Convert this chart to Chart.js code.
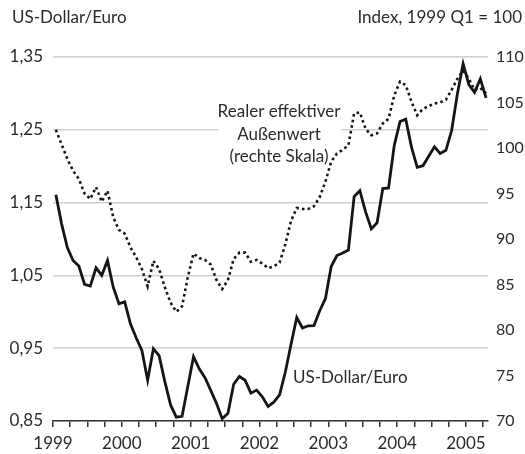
<!DOCTYPE html>
<html>
<head>
<meta charset="utf-8">
<script src="https://cdn.jsdelivr.net/npm/chart.js@4.4.1/dist/chart.umd.min.js"></script>
<style>
  body { margin: 0; background: #fff; }
  #wrap { position: relative; width: 525px; height: 454px; }
</style>
</head>
<body>
<div id="wrap"><canvas id="fxChart" width="525" height="454"></canvas></div>
<script>
// monthly values, Jan 1999 .. Apr 2005
var startYear = 1999;

// US-Dollar per Euro (left scale)
var usdEuro = [
  1.1608, 1.1208, 1.0883, 1.0704, 1.0628, 1.0378, 1.0353, 1.0604, 1.0501, 1.0706, 1.0338, 1.0110,
  1.0137, 0.9834, 0.9643, 0.9470, 0.9060, 0.9492, 0.9397, 0.9041, 0.8721, 0.8552, 0.8564, 0.8973,
  0.9383, 0.9217, 0.9095, 0.8920, 0.8742, 0.8532, 0.8607, 0.9005, 0.9111, 0.9059, 0.8883, 0.8924,
  0.8833, 0.8700, 0.8758, 0.8858, 0.9170, 0.9554, 0.9922, 0.9778, 0.9808, 0.9811, 1.0014, 1.0183,
  1.0622, 1.0773, 1.0807, 1.0848, 1.1582, 1.1663, 1.1372, 1.1139, 1.1222, 1.1692, 1.1702, 1.2286,
  1.2613, 1.2646, 1.2262, 1.1985, 1.2007, 1.2138, 1.2266, 1.2176, 1.2218, 1.2490, 1.2991, 1.3408,
  1.3119, 1.3014, 1.3201, 1.2938
];

// real effective exchange rate, index 1999 Q1 = 100 (right scale)
var realIndex = [
  102.0, 100.4, 98.8, 97.5, 96.6, 95.0, 94.4, 95.7, 94.1, 95.3, 92.4, 91.0,
  90.6, 89.1, 88.0, 86.7, 84.8, 87.6, 86.7, 84.7, 83.0, 82.0, 82.6, 85.8,
  88.4, 87.9, 87.7, 87.2, 85.5, 84.5, 85.5, 87.8, 88.5, 88.5, 87.5, 87.7,
  87.3, 86.8, 87.0, 87.4, 89.4, 92.0, 93.4, 93.3, 93.3, 93.6, 94.6, 96.3,
  98.5, 99.4, 99.8, 100.3, 103.8, 103.9, 102.1, 101.4, 101.6, 102.7, 103.2, 105.8,
  107.3, 106.9, 105.1, 103.6, 104.3, 104.6, 104.9, 105.0, 105.3, 106.4, 107.6, 108.5,
  107.6, 106.4, 106.6, 106.0
];

var leftTicks = [0.85, 0.95, 1.05, 1.15, 1.25, 1.35];
var rightTicks = [70, 75, 80, 85, 90, 95, 100, 105, 110];
var years = [1999, 2000, 2001, 2002, 2003, 2004, 2005];

// quarter tick marks on the time axis
var quarterTicks = [];
years.forEach(function (y) {
  [0, 0.25, 0.5, 0.75].forEach(function (q) {
    if (y + q <= 2005.25) quarterTicks.push(y + q);
  });
});

// months plotted at mid-month
function toPoints(values) {
  return values.map(function (v, i) {
    return { x: startYear + (i + 0.5) / 12, y: v };
  });
}

var textColor = "#2b2b2b";
var fontFamily = "Lato, 'Open Sans', sans-serif";

var labelsPlugin = {
  id: "labels",
  beforeDatasetsDraw: function (chart) {
    var ctx = chart.ctx;
    // white box behind the annotation so the grid line is interrupted
    ctx.save();
    ctx.fillStyle = "#fff";
    ctx.fillRect(218, 98, 123, 70);
    ctx.restore();
  },
  afterDraw: function (chart) {
    var ctx = chart.ctx;
    ctx.save();
    ctx.fillStyle = textColor;
    ctx.font = "17px " + fontFamily;
    ctx.textBaseline = "middle";

    ctx.textAlign = "left";
    ctx.fillText("US-Dollar/Euro", 12, 18);
    ctx.textAlign = "right";
    ctx.fillText("Index, 1999 Q1 = 100", 522, 18);

    ctx.textAlign = "center";
    ctx.fillText("Realer effektiver", 279, 112);
    ctx.fillText("Außenwert", 279, 134.5);
    ctx.fillText("(rechte Skala)", 279, 157);

    ctx.textAlign = "left";
    ctx.fillText("US-Dollar/Euro", 293, 378);
    ctx.restore();
  }
};

var ctx = document.getElementById("fxChart").getContext("2d");

new Chart(ctx, {
  type: "line",
  data: {
    datasets: [
      {
        label: "US-Dollar/Euro",
        data: toPoints(usdEuro),
        yAxisID: "yLeft",
        borderColor: "#151515",
        borderWidth: 2.8,
        pointRadius: 0,
        tension: 0,
        fill: false
      },
      {
        label: "Realer effektiver Außenwert",
        data: toPoints(realIndex),
        yAxisID: "yRight",
        borderColor: "#151515",
        borderWidth: 2.6,
        borderDash: [2.6, 3.1],
        borderCapStyle: "butt",
        pointRadius: 0,
        tension: 0,
        fill: false
      }
    ]
  },
  options: {
    responsive: false,
    animation: false,
    layout: { padding: { top: 57, left: 0, right: 0, bottom: 0 } },
    plugins: {
      legend: { display: false },
      tooltip: { enabled: false }
    },
    scales: {
      x: {
        type: "linear",
        min: 1999,
        max: 2005.32,
        afterBuildTicks: function (scale) {
          scale.ticks = quarterTicks.map(function (v) { return { value: v }; });
        },
        afterFit: function (scale) { scale.height = 33; },
        grid: {
          drawOnChartArea: false,
          drawTicks: true,
          tickLength: 6,
          color: "#333",
          lineWidth: 1.5
        },
        border: { display: true, color: "#333", width: 1.5 },
        ticks: {
          autoSkip: false,
          maxRotation: 0,
          padding: 6,
          color: textColor,
          font: { family: fontFamily, size: 17 },
          callback: function (v) {
            return Number.isInteger(v) ? String(v) : "";
          }
        }
      },
      yLeft: {
        position: "left",
        min: 0.85,
        max: 1.35,
        afterBuildTicks: function (scale) {
          scale.ticks = leftTicks.map(function (v) { return { value: v }; });
        },
        afterFit: function (scale) { scale.width = 53; },
        grid: { color: "#cfcfcf", lineWidth: 1.5, drawTicks: false },
        border: { display: false },
        ticks: {
          padding: 10,
          color: textColor,
          font: { family: fontFamily, size: 17 },
          callback: function (v) { return v.toFixed(2).replace(".", ","); }
        }
      },
      yRight: {
        position: "right",
        min: 70,
        max: 110,
        afterBuildTicks: function (scale) {
          scale.ticks = rightTicks.map(function (v) { return { value: v }; });
        },
        afterFit: function (scale) { scale.width = 37; },
        grid: { drawOnChartArea: false, drawTicks: false },
        border: { display: false },
        ticks: {
          padding: 8,
          color: textColor,
          font: { family: fontFamily, size: 16 }
        }
      }
    }
  },
  plugins: [labelsPlugin]
});
</script>
</body>
</html>
